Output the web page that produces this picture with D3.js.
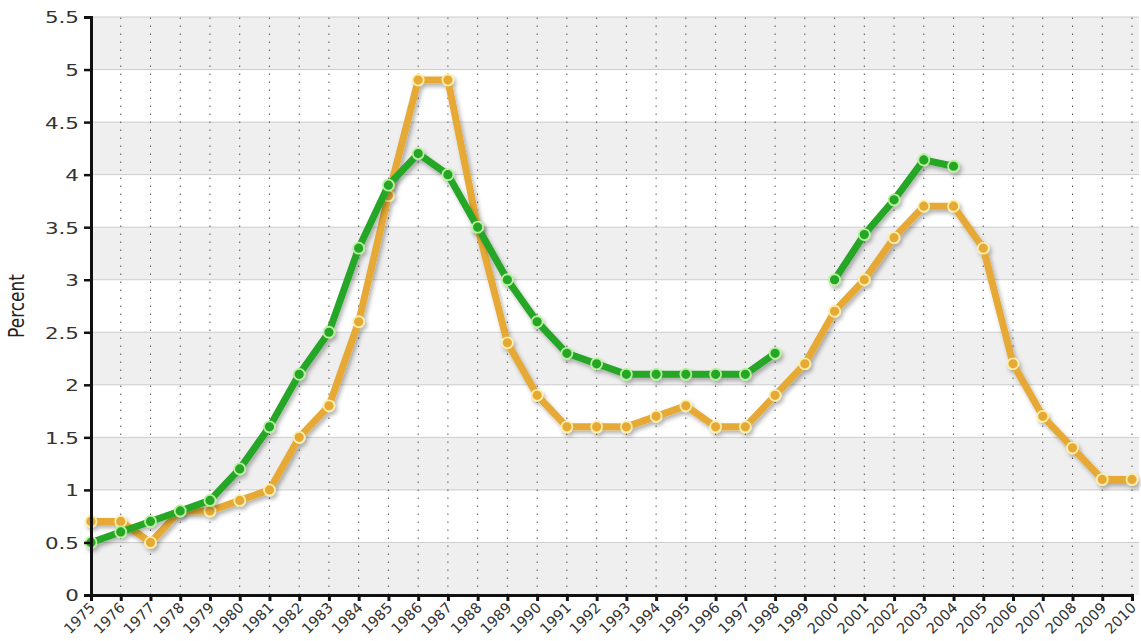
<!DOCTYPE html>
<html lang="en">
<head>
    <meta charset="UTF-8">
    <title>Percent chart</title>
    <script src="https://d3js.org/d3.v7.min.js"></script>
    <style>
        body { margin: 0; background: #fff; }
        text { font-family: "DejaVu Sans", Verdana, sans-serif; }
    </style>
</head>
<body>
<script>
    // data
    const years = d3.range(1975, 2011);
    const greenValues = [0.5, 0.6, 0.7, 0.8, 0.9, 1.2, 1.6, 2.1, 2.5, 3.3, 3.9, 4.2, 4.0, 3.5, 3.0, 2.6, 2.3, 2.2,
        2.1, 2.1, 2.1, 2.1, 2.1, 2.3, null, 3.0, 3.43, 3.76, 4.14, 4.08, null, null, null, null, null, null];
    const orangeValues = [0.7, 0.7, 0.5, 0.8, 0.8, 0.9, 1.0, 1.5, 1.8, 2.6, 3.8, 4.9, 4.9, 3.5, 2.4, 1.9, 1.6, 1.6,
        1.6, 1.7, 1.8, 1.6, 1.6, 1.9, 2.2, 2.7, 3.0, 3.4, 3.7, 3.7, 3.3, 2.2, 1.7, 1.4, 1.1, 1.1];
    const yTicks = [0, 0.5, 1, 1.5, 2, 2.5, 3, 3.5, 4, 4.5, 5, 5.5];

    const width = 1141, height = 641;
    const svg = d3.select("body").append("svg")
        .attr("width", width)
        .attr("height", height);

    const x = d3.scaleLinear().domain([1975, 2010]).range([91, 1132]);
    const y = d3.scaleLinear().domain([0, 5.5]).range([595, 17]);
    const plotRight = 1139;

    const defs = svg.append("defs");
    const f = defs.append("filter").attr("id", "shadow")
        .attr("x", "-5%").attr("y", "-5%").attr("width", "110%").attr("height", "115%");
    f.append("feDropShadow")
        .attr("dx", 2).attr("dy", 3)
        .attr("stdDeviation", 2)
        .attr("flood-color", "#000")
        .attr("flood-opacity", 0.3);

    // alternating bands
    const bands = yTicks.slice(0, -1).map((v, i) => ({ lo: v, hi: yTicks[i + 1], i: i }));
    svg.append("g").selectAll("rect")
        .data(bands)
        .enter().append("rect")
        .attr("x", x(1975))
        .attr("y", d => y(d.hi))
        .attr("width", plotRight - x(1975))
        .attr("height", d => y(d.lo) - y(d.hi))
        .attr("fill", d => d.i % 2 === 0 ? "#efefef" : "#ffffff");

    // horizontal grid
    svg.append("g").selectAll("line")
        .data(yTicks.slice(1))
        .enter().append("line")
        .attr("x1", x(1975)).attr("x2", plotRight)
        .attr("y1", d => y(d)).attr("y2", d => y(d))
        .attr("stroke", "#cccccc")
        .attr("stroke-width", 1);

    // vertical dotted grid
    svg.append("g").selectAll("line")
        .data(years.slice(1))
        .enter().append("line")
        .attr("x1", d => x(d)).attr("x2", d => x(d))
        .attr("y1", y(0)).attr("y2", y(5.5))
        .attr("stroke", "#555")
        .attr("stroke-width", 1)
        .attr("stroke-dasharray", "1.5,6.5");

    // lines
    function drawSeries(values, color, ring) {
        const pts = years.map((yr, i) => ({ year: yr, v: values[i] }));
        const line = d3.line()
            .defined(d => d.v !== null)
            .x(d => x(d.year))
            .y(d => y(d.v));
        const g = svg.append("g").attr("filter", "url(#shadow)");
        g.append("path")
            .datum(pts)
            .attr("d", line)
            .attr("fill", "none")
            .attr("stroke", color)
            .attr("stroke-width", 7)
            .attr("stroke-linejoin", "round");
        g.selectAll("circle")
            .data(pts.filter(d => d.v !== null))
            .enter().append("circle")
            .attr("cx", d => x(d.year))
            .attr("cy", d => y(d.v))
            .attr("r", 5.5)
            .attr("fill", color)
            .attr("stroke", ring)
            .attr("stroke-width", 1.8);
    }
    drawSeries(orangeValues, "#e6a935", "#fbefa8");
    drawSeries(greenValues, "#25a625", "#b5f29a");

    // axes
    const yAxis = svg.append("g")
        .attr("transform", `translate(${x(1975)},0)`)
        .call(d3.axisLeft(y).tickValues(yTicks).tickSize(7).tickFormat(d3.format("")));
    yAxis.select(".domain").attr("stroke", "#111").attr("stroke-width", 3);
    yAxis.selectAll(".tick line").attr("stroke", "#111").attr("stroke-width", 2.5);
    yAxis.selectAll(".tick text")
        .attr("font-size", 16.5)
        .attr("fill", "#333")
        .attr("x", 0)
        .attr("dy", "0.36em")
        .attr("transform", "translate(-12,0) scale(1.3,1)");

    const xAxis = svg.append("g")
        .attr("transform", `translate(0,${y(0)})`)
        .call(d3.axisBottom(x).tickValues(years).tickSize(6).tickFormat(d3.format("d")));
    xAxis.select(".domain").attr("stroke", "#111").attr("stroke-width", 3);
    xAxis.selectAll(".tick line").attr("stroke", "#111").attr("stroke-width", 3);
    xAxis.selectAll(".tick text")
        .attr("font-size", 14.5)
        .attr("fill", "#333")
        .attr("text-anchor", "end")
        .attr("transform", "translate(1,10) rotate(-45)")
        .attr("x", 0)
        .attr("y", 0)
        .attr("dy", "0.35em");

    svg.append("text")
        .attr("transform", `translate(24,${y(2.75)}) scale(1.2,1) rotate(-90)`)
        .attr("text-anchor", "middle")
        .attr("font-size", 17)
        .attr("fill", "#222")
        .text("Percent");
</script>
</body>
</html>
